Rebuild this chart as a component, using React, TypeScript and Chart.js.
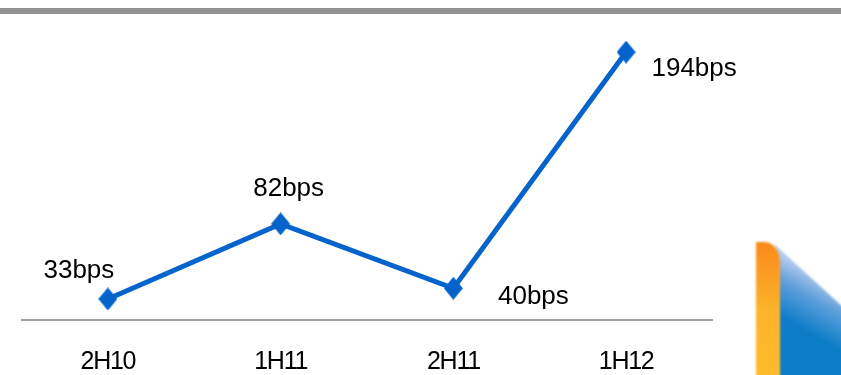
import { useEffect, useRef } from "react";
import { Chart, registerables } from "chart.js";

Chart.register(...registerables);

const periods = ["2H10", "1H11", "2H11", "1H12"];
const spreadBps = [33, 82, 40, 194];

const BLUE = "#0564cb";
const FONT = "'Liberation Sans', Arial, sans-serif";

// Where each value label sits relative to its point.
const labelOffsetX = [-29, 8, 80, 68];
const labelOffsetY = [-29.5, -36, 8, 16];

const valueLabels = {
  id: "valueLabels",
  afterDatasetsDraw(chart: Chart) {
    const { ctx } = chart;
    const points = chart.getDatasetMeta(0).data;
    ctx.save();
    (ctx as any).letterSpacing = "0px";
    ctx.font = `26px ${FONT}`;
    ctx.fillStyle = "#000000";
    ctx.textAlign = "center";
    ctx.textBaseline = "middle";
    points.forEach((pt, i) => {
      ctx.fillText(`${spreadBps[i]}bps`, pt.x + labelOffsetX[i], pt.y + labelOffsetY[i] + 1);
    });
    ctx.restore();
  },
};

// The category labels are set slightly tighter than the value labels.
const tightTicks = {
  id: "tightTicks",
  beforeDraw(chart: Chart) {
    (chart.ctx as any).letterSpacing = "-1.3px";
  },
};

// A diamond a little taller than it is wide.
function makeDiamond() {
  const w = 19;
  const h = 23;
  const c = document.createElement("canvas");
  c.width = w;
  c.height = h;
  const g = c.getContext("2d")!;
  g.fillStyle = BLUE;
  g.beginPath();
  g.moveTo(w / 2, 0);
  g.lineTo(w, h / 2);
  g.lineTo(w / 2, h);
  g.lineTo(0, h / 2);
  g.closePath();
  g.fill();
  return c;
}

export default function App() {
  const ref = useRef<HTMLCanvasElement>(null);

  useEffect(() => {
    const chart = new Chart(ref.current!, {
      type: "line",
      data: {
        labels: periods,
        datasets: [
          {
            data: spreadBps,
            borderColor: BLUE,
            backgroundColor: BLUE,
            borderWidth: 5,
            tension: 0,
            pointStyle: makeDiamond(),
            pointRadius: 10,
          },
        ],
      },
      options: {
        responsive: false,
        animation: false,
        layout: { padding: { left: 21.5, right: 128.5, top: 20.5, bottom: 0 } },
        plugins: { legend: { display: false }, tooltip: { enabled: false } },
        scales: {
          x: {
            offset: true,
            afterFit(scale: any) {
              scale.height = 55;
            },
            grid: { display: false, drawTicks: false },
            border: { display: true, color: "#a3a3a3", width: 2 },
            ticks: {
              color: "#000000",
              padding: 27,
              maxRotation: 0,
              font: { family: FONT, size: 25 },
            },
          },
          y: { display: false, min: 19.3, max: 214.6 },
        },
      },
      plugins: [tightTicks, valueLabels],
    });
    return () => chart.destroy();
  }, []);

  return (
    <div style={{ position: "fixed", left: 0, top: 0, width: 841, height: 375, background: "#ffffff", overflow: "hidden" }}>
      <div style={{ position: "absolute", left: 0, top: 8, width: 841, height: 6, background: "#939393" }} />
      <svg width={841} height={375} style={{ position: "absolute", left: 0, top: 0 }}>
        <defs>
          <linearGradient id="stripe" x1="0" y1="0" x2="0" y2="1">
            <stop offset="0" stopColor="#f98a1c" />
            <stop offset="0.5" stopColor="#fdb32a" />
            <stop offset="1" stopColor="#fdbb2a" />
          </linearGradient>
          <linearGradient id="panel" gradientUnits="userSpaceOnUse" x1="812" y1="272" x2="785" y2="320">
            <stop offset="0" stopColor="#b4cbec" />
            <stop offset="0.4" stopColor="#5f9fdb" />
            <stop offset="1" stopColor="#0b7cc8" />
          </linearGradient>
          <filter id="soft">
            <feGaussianBlur stdDeviation="0.8" />
          </filter>
        </defs>
        <path d="M774 244 L843 307 L843 378 L778 378 L778 258 Z" fill="url(#panel)" filter="url(#soft)" />
        <path d="M756 242 L766 242 Q779 245 780 262 L780 378 L756 378 Z" fill="url(#stripe)" filter="url(#soft)" />
      </svg>
      <canvas
        ref={ref}
        width={841}
        height={375}
        style={{ position: "absolute", left: 0, top: 0, display: "block" }}
      />
    </div>
  );
}
